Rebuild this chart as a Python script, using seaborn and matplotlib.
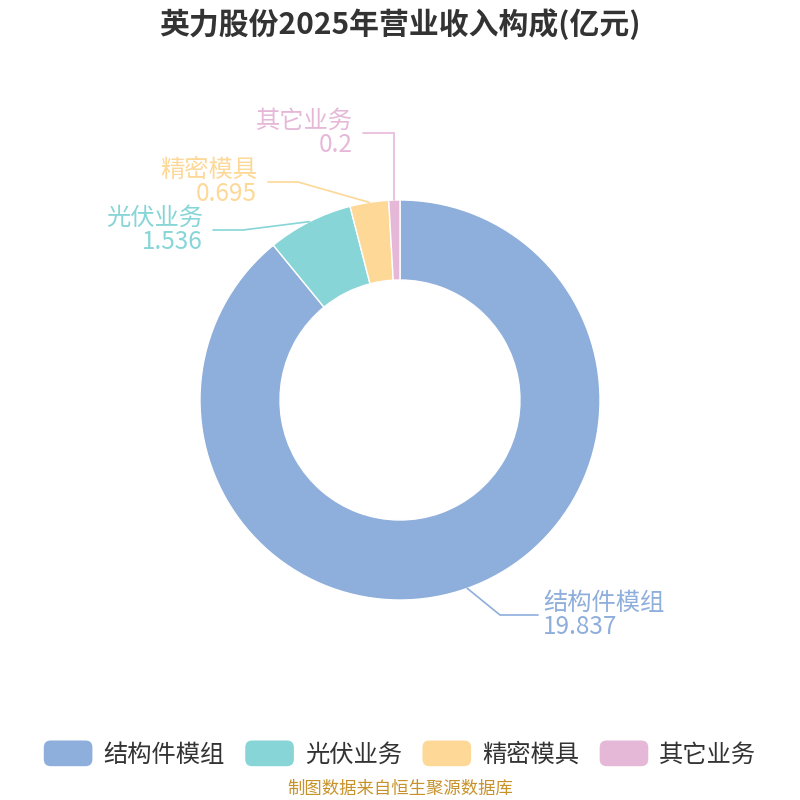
import numpy as np
import matplotlib
matplotlib.use("Agg")
import matplotlib.pyplot as plt
import seaborn as sns
from matplotlib.patches import Patch, FancyBboxPatch
from matplotlib.legend_handler import HandlerPatch

# data
categories = ["结构件模组", "光伏业务", "精密模具", "其它业务"]
values = [19.837, 1.536, 0.695, 0.2]
value_labels = ["19.837", "1.536", "0.695", "0.2"]
colors = ["#8eaedb", "#87d5d7", "#fdd897", "#e6b8d8"]

sns.set_theme(style="white")
plt.rcParams["font.family"] = ["Noto Sans CJK SC", "DejaVu Sans"]


class RoundHandler(HandlerPatch):
    # rounded legend boxes
    def create_artists(self, legend, orig_handle, xdescent, ydescent,
                       width, height, fontsize, trans):
        p = FancyBboxPatch((-xdescent, -ydescent), width, height,
                           boxstyle="round,pad=0,rounding_size=5",
                           facecolor=orig_handle.get_facecolor(),
                           edgecolor="none", transform=trans)
        return [p]


fig = plt.figure(figsize=(8, 8), dpi=100)
ax = fig.add_axes([0, 0, 1, 1])

pal = sns.color_palette(colors)
cx, cy, R = 400, 400, 200
wedges, _ = ax.pie(values, colors=pal, startangle=90, counterclock=False,
                   center=(cx, cy), radius=R,
                   wedgeprops=dict(width=80, edgecolor="white", linewidth=1))
ax.set_xlim(0, 800)
ax.set_ylim(0, 800)
ax.set_aspect("equal")
ax.axis("off")

# label layout (pixel coords, y from top): elbow point, line end, text x, align
layout = [
    ((500, 615), (538, 615), 543, "left"),
    ((243, 230), (213, 230), 203, "right"),
    ((298, 182), (268, 182), 257, "right"),
    ((393, 133), (363, 133), 353, "right"),
]

for w, (elbow, end, tx, ha), name, vl, col in zip(wedges, layout, categories, value_labels, pal):
    ang = np.deg2rad((w.theta1 + w.theta2) / 2)
    sx, sy = cx + R * np.cos(ang), cy + R * np.sin(ang)
    ex, ey = elbow[0], 800 - elbow[1]
    lx, ly = end[0], 800 - end[1]
    if ha == "right" and abs(sx - ex) < 10:
        ex = sx
    ax.plot([sx, ex, lx], [sy, ey, ly], color=col, lw=1.2, solid_joinstyle="miter")
    ax.text(tx, ly + 12, name, ha=ha, va="center", fontsize=17.5, color=col)
    ax.text(tx, ly - 12, vl, ha=ha, va="center", fontsize=17.5, color=col)

fig.text(0.5, 1 - 24 / 800, "英力股份2025年营业收入构成(亿元)", ha="center", va="center",
         fontsize=21.5, fontweight="bold", color="#333333")

handles = [Patch(facecolor=c, edgecolor=c, label=l) for c, l in zip(pal, categories)]
leg = fig.legend(handles=handles, loc="center", bbox_to_anchor=(0.5, 1 - 754 / 800),
                 ncol=4, frameon=False, fontsize=17.5, handlelength=2.0,
                 handleheight=1.25, handletextpad=0.45, columnspacing=0.85,
                 labelcolor="#333333", handler_map={Patch: RoundHandler()})

fig.text(0.5, 1 - 789 / 800, "制图数据来自恒生聚源数据库", ha="center", va="center",
         fontsize=12.5, color="#c8922a")

fig.savefig("out.png", dpi=100)
